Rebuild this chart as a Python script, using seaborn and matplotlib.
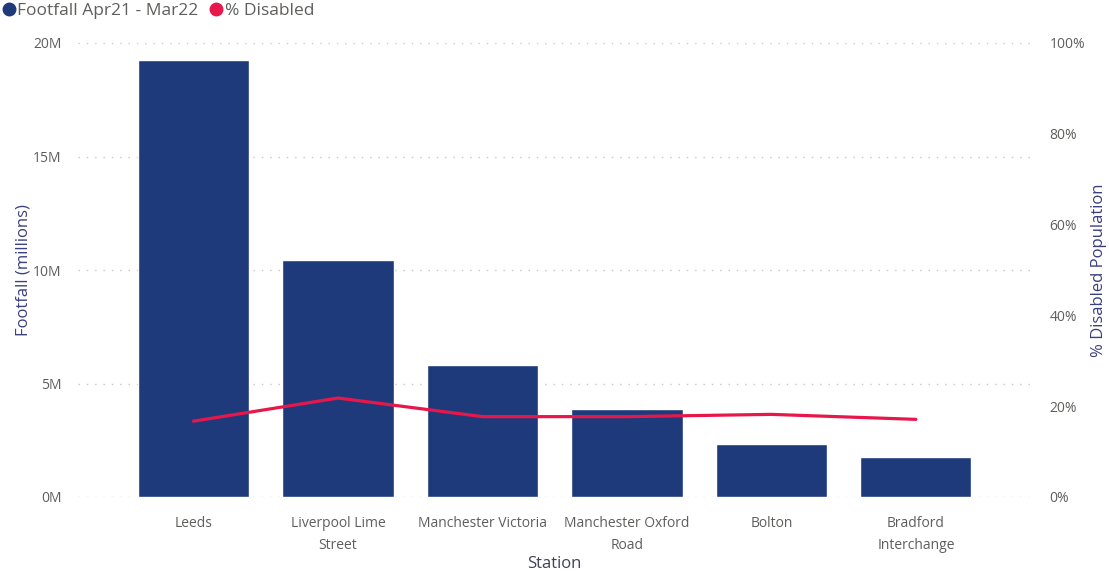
import matplotlib
matplotlib.use("Agg")
import matplotlib.pyplot as plt
from matplotlib.lines import Line2D
from matplotlib.ticker import FuncFormatter
import seaborn as sns
import pandas as pd

stations = ["Leeds", "Liverpool Lime\nStreet", "Manchester Victoria",
            "Manchester Oxford\nRoad", "Bolton", "Bradford\nInterchange"]
footfall = [19.25e6, 10.45e6, 5.8e6, 3.88e6, 2.33e6, 1.76e6]
pct_disabled = [0.167, 0.218, 0.177, 0.177, 0.182, 0.171]
left_ticks = [0, 5e6, 10e6, 15e6, 20e6]
right_ticks = [0, 0.2, 0.4, 0.6, 0.8, 1.0]
legend_labels = ["Footfall Apr21 - Mar22", "% Disabled"]

BAR = "#1F3A7A"
LINE = "#E8174B"
TXT = "#605E5C"
TITLE = "#3A3F7F"

sns.set_style("white")
plt.rcParams["font.family"] = ["Open Sans", "DejaVu Sans"]

df = pd.DataFrame({"Station": stations, "Footfall": footfall, "Pct": pct_disabled})

W, H = 1109, 574
fig = plt.figure(figsize=(W / 100, H / 100), dpi=100)
ax = fig.add_axes([78 / W, 1 - 497 / H, (1030 - 78) / W, (497 - 43) / H])

sns.barplot(data=df, x="Station", y="Footfall", color=BAR, width=0.77,
            saturation=1, ax=ax, zorder=2)
ax.set_ylim(0, 20e6)
ax.set_yticks(left_ticks)
ax.yaxis.set_major_formatter(FuncFormatter(lambda v, p: f"{v/1e6:.0f}M"))
ax.grid(axis="y", color="#C8C8C8", linestyle=(0, (1, 5)), linewidth=1, zorder=0)
ax.set_axisbelow(True)
for s in ax.spines.values():
    s.set_visible(False)
ax.tick_params(axis="both", length=0, colors=TXT, labelsize=10)
ax.tick_params(axis="y", pad=12)
ax.tick_params(axis="x", pad=14)
for lbl in ax.get_xticklabels():
    lbl.set_linespacing(1.6)
ax.set_ylabel("Footfall (millions)", color=TITLE, fontsize=12, labelpad=1)
ax.set_xlabel("Station", color="#3E4358", fontsize=12, labelpad=2)

ax2 = ax.twinx()
sns.lineplot(data=df, x="Station", y="Pct", color=LINE, linewidth=2.3,
             sort=False, ax=ax2, zorder=3)
ax2.set_ylim(0, 1)
ax2.set_yticks(right_ticks)
ax2.yaxis.set_major_formatter(FuncFormatter(lambda v, p: f"{v*100:.0f}%"))
for s in ax2.spines.values():
    s.set_visible(False)
ax2.tick_params(axis="y", length=0, colors=TXT, labelsize=10, pad=14)
ax2.set_ylabel("% Disabled Population", color=TITLE, fontsize=12, labelpad=4)
ax2.grid(False)

ax.set_xlim(-0.8, 5.79)

handles = [Line2D([], [], marker="o", linestyle="", color=BAR, markersize=9),
           Line2D([], [], marker="o", linestyle="", color=LINE, markersize=9)]
leg = fig.legend(handles, legend_labels, loc="center left",
                 bbox_to_anchor=(0.0, 1 - 11 / H), ncol=2, frameon=False,
                 fontsize=12.5, handletextpad=0.0, columnspacing=0.5,
                 borderpad=0, borderaxespad=0, handlelength=1.0)
for t in leg.get_texts():
    t.set_color(TXT)

fig.savefig("out.png", dpi=100)
